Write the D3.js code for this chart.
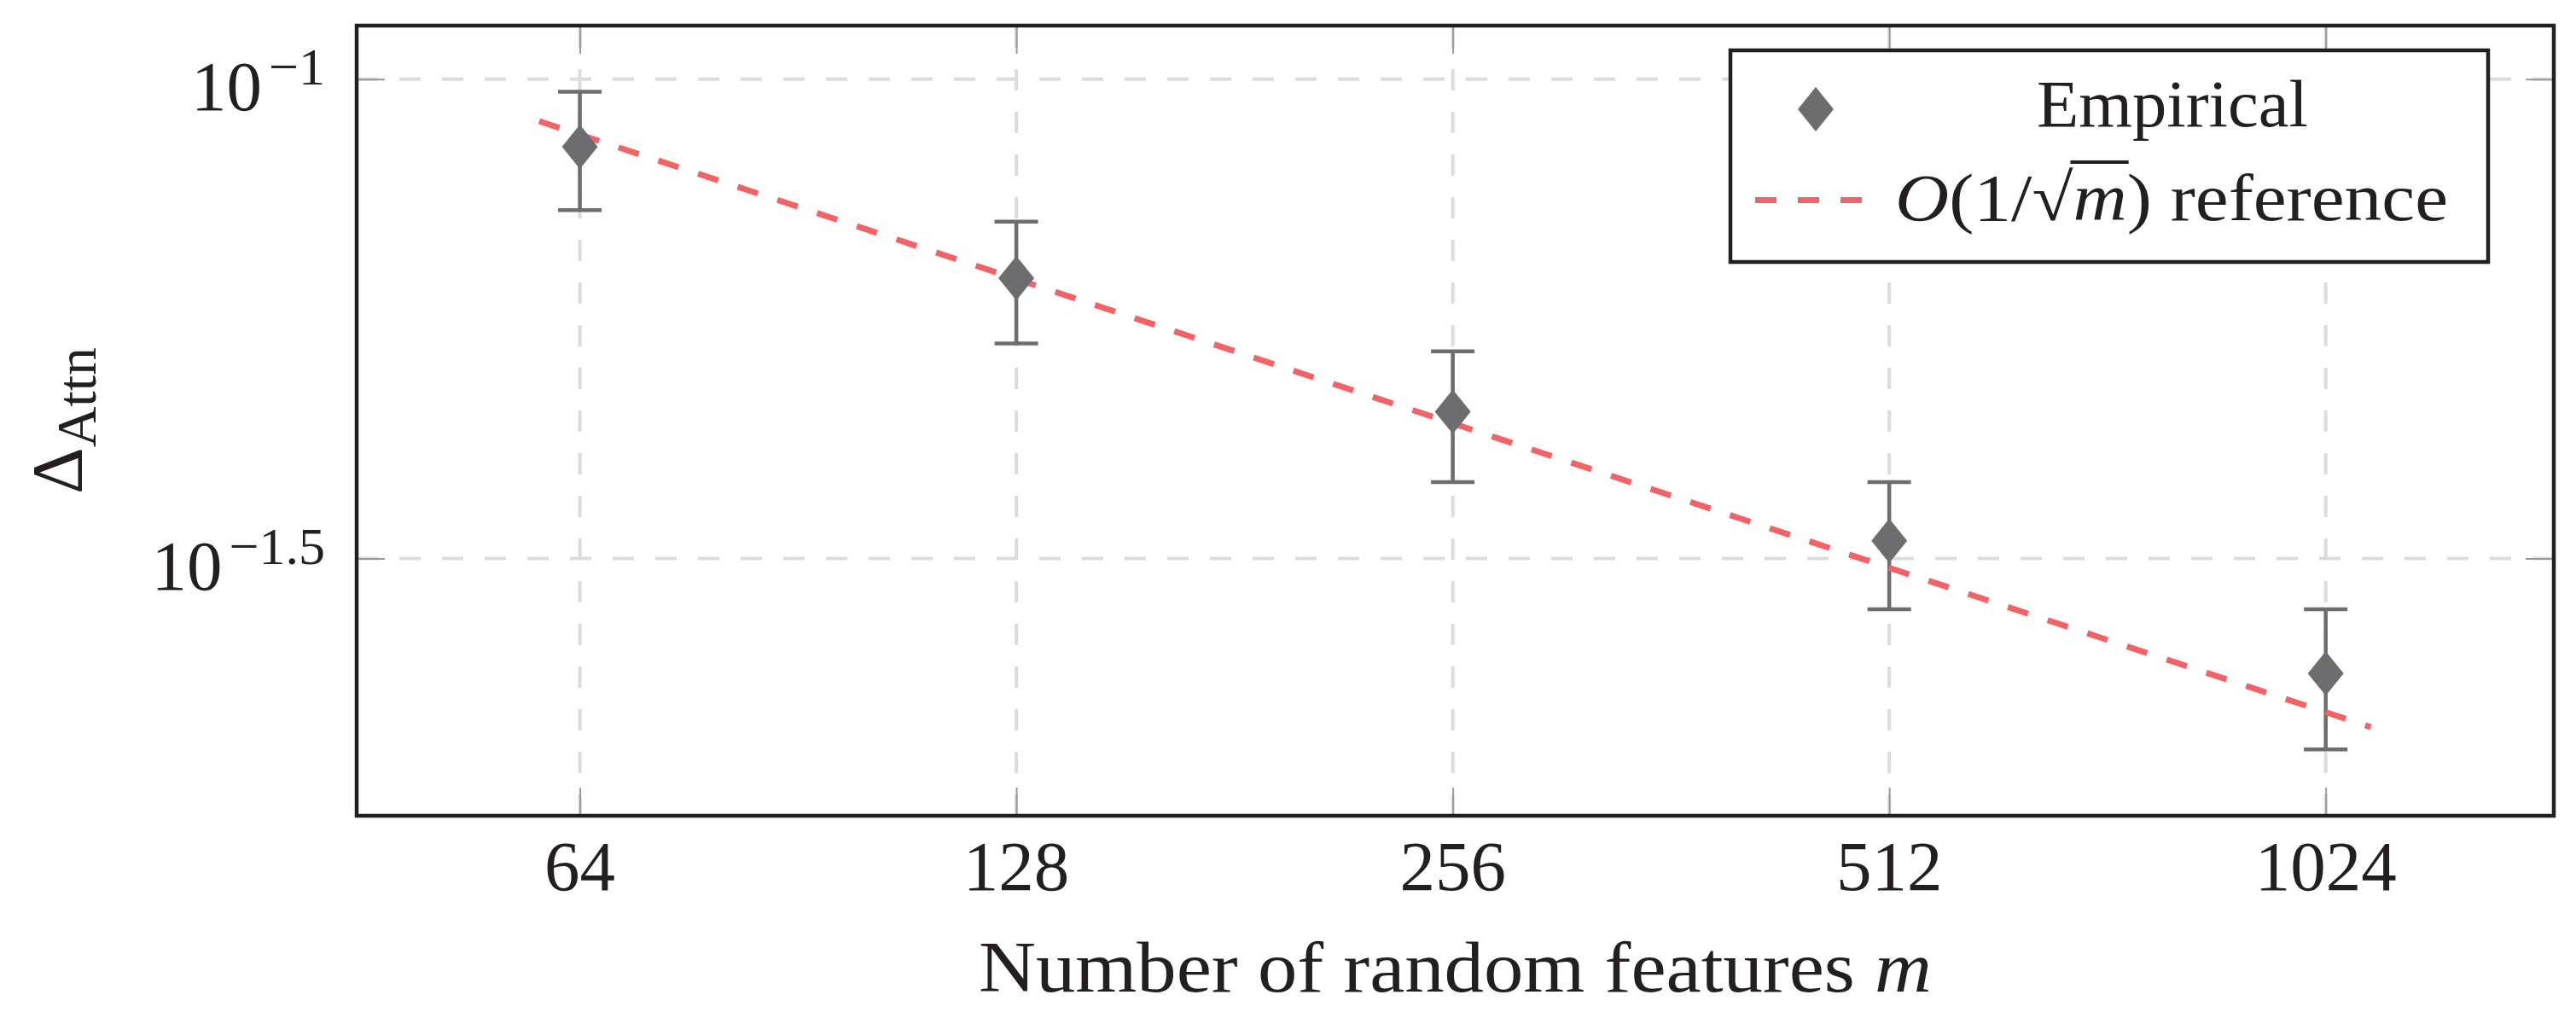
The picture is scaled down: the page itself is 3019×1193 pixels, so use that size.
<!DOCTYPE html>
<html>
<head>
<meta charset="utf-8">
<script src="https://cdn.jsdelivr.net/npm/d3@7"></script>
<style>
  html, body { margin: 0; padding: 0; background: #fff; }
  text { font-family: "Liberation Serif", serif; fill: #231f20; }
</style>
</head>
<body>
<div id="chart"></div>
<script>
// values
const mValues = [64, 128, 256, 512, 1024];
const xTickLabels = ['64', '128', '256', '512', '1024'];
const empirical = [0.085, 0.062, 0.045, 0.033, 0.024];
const errors = [0.012, 0.009, 0.007, 0.005, 0.004];
// O(1/sqrt(m)) reference line, end points
const refM = [60, 1100];
const refVals = [0.0904, 0.0211];
const yTicks = [Math.pow(10, -1), Math.pow(10, -1.5)];
const yTickExps = ['\u22121', '\u22121.5'];

const W = 3019, H = 1193;
const frame = { left: 418, right: 2993, top: 30, bottom: 956 };

const svg = d3.select('#chart').append('svg')
    .attr('width', W)
    .attr('height', H)
    .style('background', '#fff');

const x = d3.scaleLog().base(2)
    .domain([44.9, 1471])
    .range([frame.left, frame.right]);
const y = d3.scaleLog()
    .domain([Math.pow(10, -1.7682), Math.pow(10, -0.9442)])
    .range([frame.bottom, frame.top]);

const gridColor = '#dcdcdc';
const tickColor = '#9a9a9a';
const markColor = '#6d6d6f';
const refColor = '#f16366';

// grid
svg.append('g').selectAll('line')
    .data(mValues)
    .join('line')
    .attr('x1', d => x(d)).attr('x2', d => x(d))
    .attr('y1', frame.bottom).attr('y2', frame.top)
    .attr('stroke', gridColor)
    .attr('stroke-width', 4)
    .attr('stroke-dasharray', '25 25');

svg.append('g').selectAll('line')
    .data(yTicks)
    .join('line')
    .attr('x1', frame.left).attr('x2', frame.right)
    .attr('y1', d => y(d)).attr('y2', d => y(d))
    .attr('stroke', gridColor)
    .attr('stroke-width', 4)
    .attr('stroke-dasharray', '25 25');

// tick marks, inward on all four sides
function styleTicks(g) {
    g.select('.domain').remove();
    g.selectAll('.tick line').attr('stroke', tickColor).attr('stroke-width', 2);
    g.selectAll('.tick text').remove();
}
svg.append('g').attr('transform', `translate(0,${frame.bottom})`)
    .call(d3.axisBottom(x).tickValues(mValues).tickSize(-33).tickFormat(''))
    .call(styleTicks);
svg.append('g').attr('transform', `translate(0,${frame.top})`)
    .call(d3.axisTop(x).tickValues(mValues).tickSize(-33).tickFormat(''))
    .call(styleTicks);
svg.append('g').attr('transform', `translate(${frame.left},0)`)
    .call(d3.axisLeft(y).tickValues(yTicks).tickSize(-33).tickFormat(''))
    .call(styleTicks);
svg.append('g').attr('transform', `translate(${frame.right},0)`)
    .call(d3.axisRight(y).tickValues(yTicks).tickSize(-33).tickFormat(''))
    .call(styleTicks);

// error bars
const bars = svg.append('g').attr('stroke', markColor).attr('stroke-width', 4.5);
mValues.forEach((m, i) => {
    const cx = x(m);
    const yTop = y(empirical[i] + errors[i]);
    const yBot = y(empirical[i] - errors[i]);
    bars.append('line').attr('x1', cx).attr('x2', cx).attr('y1', yTop).attr('y2', yBot);
    bars.append('line').attr('x1', cx - 25.5).attr('x2', cx + 25.5).attr('y1', yTop).attr('y2', yTop);
    bars.append('line').attr('x1', cx - 25.5).attr('x2', cx + 25.5).attr('y1', yBot).attr('y2', yBot);
});

// reference line
const refLine = d3.line().x(d => x(d[0])).y(d => y(d[1]));
svg.append('path')
    .datum(refM.map((m, i) => [m, refVals[i]]))
    .attr('d', refLine)
    .attr('fill', 'none')
    .attr('stroke', refColor)
    .attr('stroke-width', 7)
    .attr('stroke-dasharray', '25 24');

// diamonds
const diamond = 'M0,-26L21,0L0,26L-21,0Z';
svg.append('g').selectAll('path')
    .data(mValues)
    .join('path')
    .attr('d', diamond)
    .attr('transform', (d, i) => `translate(${x(d)},${y(empirical[i])})`)
    .attr('fill', markColor);

// frame
svg.append('rect')
    .attr('x', frame.left).attr('y', frame.top)
    .attr('width', frame.right - frame.left)
    .attr('height', frame.bottom - frame.top)
    .attr('fill', 'none')
    .attr('stroke', '#231f20')
    .attr('stroke-width', 4.5);

// x tick labels
svg.append('g').selectAll('text')
    .data(mValues)
    .join('text')
    .attr('x', d => x(d))
    .attr('y', 1043)
    .attr('text-anchor', 'middle')
    .attr('font-size', 83)
    .text((d, i) => xTickLabels[i]);

// y tick labels
svg.append('g').selectAll('text')
    .data(yTicks)
    .join('text')
    .attr('x', 381)
    .attr('y', d => y(d) + 36.5)
    .attr('text-anchor', 'end')
    .attr('font-size', 83)
    .each(function (d, i) {
        const t = d3.select(this);
        t.append('tspan').text('10');
        t.append('tspan').attr('dx', 8).attr('dy', -30).attr('font-size', 62).text(yTickExps[i]);
    });

// x axis label
const xLabel = svg.append('text')
    .attr('x', 1147)
    .attr('y', 1162)
    .attr('font-size', 85)
    .attr('textLength', 1117)
    .attr('lengthAdjust', 'spacingAndGlyphs');
xLabel.append('tspan').text('Number of random features ');
xLabel.append('tspan').attr('font-style', 'italic').text('m');

// y axis label
const yLabel = svg.append('text')
    .attr('transform', 'translate(96,493) rotate(-90)')
    .attr('text-anchor', 'middle')
    .attr('font-size', 85);
yLabel.append('tspan').text('\u0394');
yLabel.append('tspan').attr('dy', 16).attr('font-size', 66).text('Attn');

// legend
const lg = svg.append('g');
lg.append('rect')
    .attr('x', 2028).attr('y', 59)
    .attr('width', 888).attr('height', 248)
    .attr('fill', '#fff')
    .attr('stroke', '#231f20')
    .attr('stroke-width', 4.5);
lg.append('path')
    .attr('d', diamond)
    .attr('transform', 'translate(2128,128)')
    .attr('fill', markColor);
lg.append('line')
    .attr('x1', 2057).attr('x2', 2183)
    .attr('y1', 234.5).attr('y2', 234.5)
    .attr('stroke', refColor)
    .attr('stroke-width', 7)
    .attr('stroke-dasharray', '25 25');
lg.append('text')
    .attr('x', 2387).attr('y', 148)
    .attr('font-size', 78)
    .attr('textLength', 318)
    .attr('lengthAdjust', 'spacingAndGlyphs')
    .text('Empirical');

const refText = lg.append('text')
    .attr('x', 2221).attr('y', 258)
    .attr('font-size', 78)
    .attr('textLength', 648)
    .attr('lengthAdjust', 'spacingAndGlyphs');
refText.append('tspan').attr('font-style', 'italic').text('O');
refText.append('tspan').text('(1/');
refText.append('tspan').text('\u221A');
refText.append('tspan').attr('font-style', 'italic').text('m');
refText.append('tspan').text(') reference');

// bar over m for the square root
const node = refText.node();
const rootBox = node.getExtentOfChar(4);
const mBox = node.getExtentOfChar(5);
lg.append('line')
    .attr('x1', rootBox.x + rootBox.width - 3)
    .attr('x2', mBox.x + mBox.width + 2)
    .attr('y1', rootBox.y + 2)
    .attr('y2', rootBox.y + 2)
    .attr('stroke', '#231f20')
    .attr('stroke-width', 4);
</script>
</body>
</html>
